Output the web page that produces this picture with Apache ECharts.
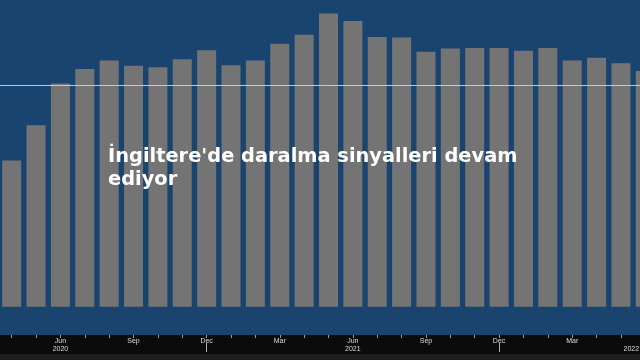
<!DOCTYPE html>
<html>
<head>
<meta charset="utf-8">
<script src="https://cdn.jsdelivr.net/npm/echarts@6/dist/echarts.min.js"></script>
<style>html,body{margin:0;padding:0;background:#1a4470;}#c{width:640px;height:360px;}</style>
</head>
<body>
<div id="c"></div>
<script>
const categories = ['Apr 2020','May 2020','Jun 2020','Jul 2020','Aug 2020','Sep 2020','Oct 2020','Nov 2020','Dec 2020',
  'Jan 2021','Feb 2021','Mar 2021','Apr 2021','May 2021','Jun 2021','Jul 2021','Aug 2021','Sep 2021','Oct 2021','Nov 2021','Dec 2021',
  'Jan 2022','Feb 2022','Mar 2022','Apr 2022','May 2022','Jun 2022'];
const values = [33.0, 41.0, 50.4, 53.7, 55.6, 54.4, 54.1, 55.9, 57.9,
  54.5, 55.6, 59.4, 61.4, 66.2, 64.5, 60.9, 60.8, 57.6, 58.3, 58.4, 58.4,
  57.8, 58.4, 55.6, 56.2, 55.0, 53.2];
const thresholdValue = 50;
const titleText = "İngiltere'de daralma sinyalleri devam\nediyor";
const labelMonths = ['Jun', 'Sep', 'Dec', 'Mar'];

const chart = echarts.init(document.getElementById('c'), null, {renderer: 'canvas'});
const last = categories.length - 1;
chart.setOption({
  animation: false,
  backgroundColor: '#1a4470',
  title: {
    text: titleText,
    left: 108, top: 145, padding: 0,
    textStyle: {color: '#ffffff', fontSize: 19.4, fontWeight: 'bold', fontFamily: 'DejaVu Sans', lineHeight: 23}
  },
  graphic: [
    {type: 'rect', z: -1, silent: true, shape: {x: 0, y: 335, width: 640, height: 19}, style: {fill: '#0b0b0b'}},
    {type: 'rect', z: -1, silent: true, shape: {x: 0, y: 354, width: 640, height: 6}, style: {fill: '#1d1d1d'}}
  ],
  grid: {left: -0.5, width: 658, top: 0, bottom: 53.3, outerBoundsMode: 'none', containLabel: false},
  xAxis: [{
    type: 'category',
    data: categories,
    position: 'bottom',
    offset: 28.3,
    axisLine: {show: false},
    axisTick: {show: false},
    axisLabel: {
      show: true,
      margin: 2,
      fontSize: 7,
      lineHeight: 8,
      fontFamily: 'Liberation Sans',
      color: '#dcdcdc',
      interval: function (i, v) { return labelMonths.indexOf(v.split(' ')[0]) >= 0; },
      formatter: function (v, i) {
        const p = v.split(' ');
        if (i === last) return '\n{y|' + p[1] + '}';
        if (p[0] === 'Jun') return p[0] + '\n' + p[1];
        return p[0];
      },
      rich: {y: {fontSize: 7, lineHeight: 8, fontFamily: 'Liberation Sans', color: '#dcdcdc', padding: [0, 28, 0, 0]}}
    }
  }, {
    type: 'category',
    data: categories,
    position: 'bottom',
    offset: 36.3,
    axisLine: {show: false},
    axisLabel: {show: false},
    axisTick: {
      show: true, alignWithLabel: true, length: 9,
      interval: function (i, v) { return v.indexOf('Dec') === 0; },
      lineStyle: {color: '#b0b0b0', width: 1}
    }
  }, {
    type: 'category',
    data: categories,
    position: 'bottom',
    offset: 28.3,
    axisLine: {show: false},
    axisLabel: {show: false},
    axisTick: {
      show: true, alignWithLabel: true, length: 3, interval: 0,
      lineStyle: {color: '#9a9a9a', width: 1}
    }
  }],
  yAxis: {
    type: 'value', min: 0, max: 69.26, show: false,
    splitLine: {show: false}
  },
  series: [{
    type: 'bar',
    data: values,
    barWidth: 19,
    itemStyle: {color: '#747474'},
    markLine: {
      silent: true,
      symbol: 'none',
      label: {show: false},
      lineStyle: {color: '#c8c8c8', width: 1, type: 'solid'},
      data: [{yAxis: thresholdValue}]
    }
  }]
});
</script>
</body>
</html>
